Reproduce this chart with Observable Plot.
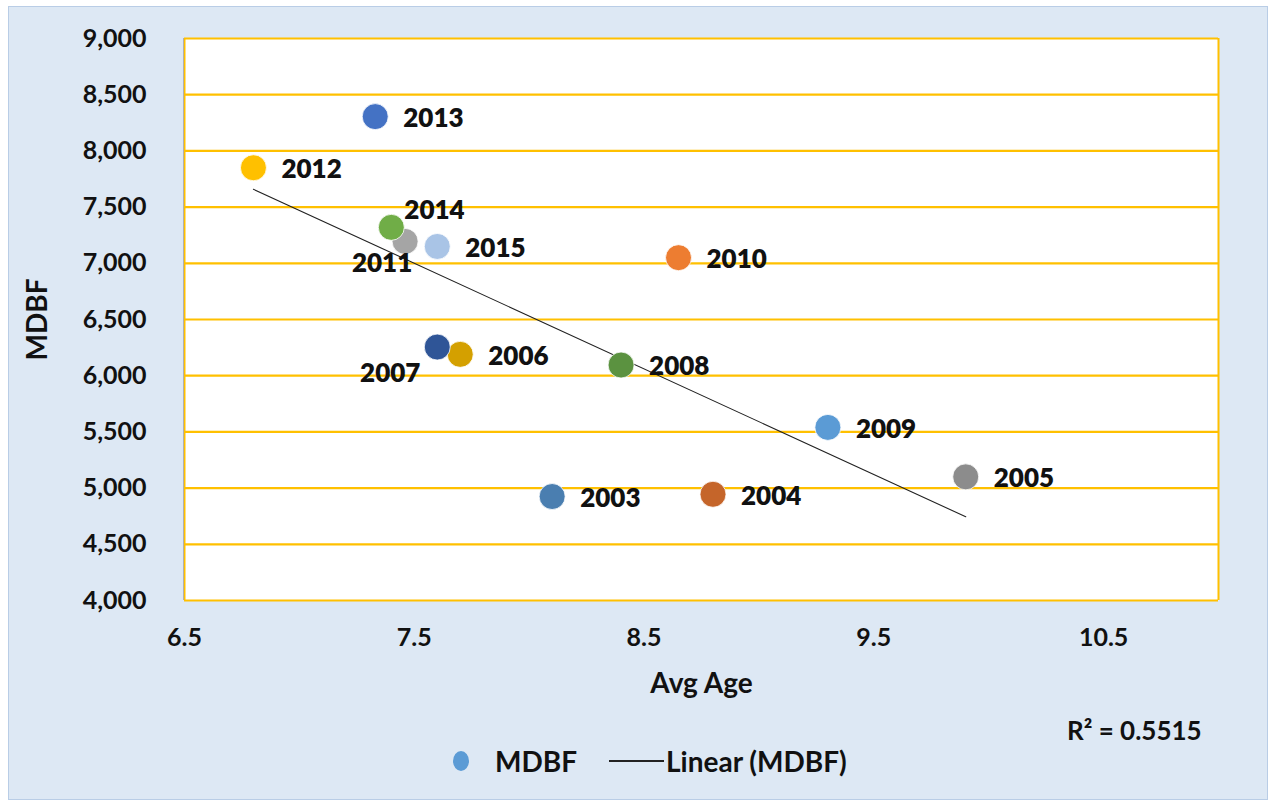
<!DOCTYPE html>
<html>
<head>
<meta charset="utf-8">
<script src="https://cdn.jsdelivr.net/npm/d3@7"></script>
<script src="https://cdn.jsdelivr.net/npm/@observablehq/plot@0.6"></script>
<style>
  html, body { margin: 0; padding: 0; background: #ffffff; }
  #wrap { position: relative; width: 1271px; height: 804px; overflow: hidden; font-family: Lato, "Open Sans", sans-serif; }
  #frame { position: absolute; left: 8px; top: 6px; width: 1258px; height: 792px; background: #dde8f4; border: 1.5px solid #b9cde6; }
  #chart { position: absolute; left: 0; top: 0; }
  #r2 { position: absolute; left: 1067px; top: 714px; font-size: 26px; font-weight: 700; color: #111; }
  #legend { position: absolute; left: 453px; top: 744px; display: flex; align-items: center; font-size: 28px; font-weight: 700; color: #111; }
  #legend .dot { width: 16px; height: 20px; border-radius: 50%; background: #5b9bd5; margin-right: 26px; }
  #legend .line { width: 55px; height: 1.5px; background: #222; margin-left: 32px; margin-right: 2px; }
</style>
</head>
<body>
<div id="wrap">
  <div id="frame"></div>
  <div id="chart"></div>
  <div id="r2">R² = 0.5515</div>
  <div id="legend"><span class="dot"></span><span>MDBF</span><span class="line"></span><span>Linear (MDBF)</span></div>
</div>
<script>
const years  = [2003, 2004, 2005, 2006, 2007, 2008, 2009, 2010, 2011, 2012, 2013, 2014, 2015];
const avgAge = [8.10, 8.80, 9.90, 7.70, 7.60, 8.40, 9.30, 8.65, 7.46, 6.80, 7.33, 7.40, 7.60];
const mdbf   = [4925, 4945, 5100, 6190, 6255, 6095, 5540, 7050, 7195, 7850, 8305, 7320, 7150];
const colors = ["#4a7eb0", "#c5652a", "#8c8c8c", "#d4a000", "#2f5597", "#5b9240", "#5b9bd5",
                "#ed7d31", "#a5a5a5", "#ffc000", "#4472c4", "#70ad47", "#a9c4e6"];
const xTicks = [6.5, 7.5, 8.5, 9.5, 10.5];
const yTicks = [4000, 4500, 5000, 5500, 6000, 6500, 7000, 7500, 8000, 8500, 9000];

const data = years.map((y, i) => ({year: y, label: String(y), age: avgAge[i], mdbf: mdbf[i], color: colors[i]}));
const below = new Set([2011, 2007]);
const above = new Set([2014]);
const rightLabels = data.filter(d => !below.has(d.year) && !above.has(d.year));

const fmt = d3.format(",");
const lbl = { x: "age", y: "mdbf", text: "label", fontSize: 26, fontWeight: 800, fill: "#111" };
const plot = Plot.plot({
  width: 1271,
  height: 700,
  marginLeft: 184,
  marginRight: 53,
  marginTop: 38,
  marginBottom: 100,
  style: { background: "transparent", fontFamily: "Lato, 'Open Sans', sans-serif", color: "#111" },
  x: { domain: [6.5, 11], ticks: xTicks, tickFormat: d => d.toFixed(1) },
  y: { domain: [4000, 9000], ticks: yTicks, tickFormat: fmt },
  marks: [
    Plot.frame({ fill: "white", stroke: "none" }),
    Plot.ruleY(yTicks, { stroke: "#ffc000", strokeWidth: 2.2 }),
    Plot.ruleX([6.5, 11], { stroke: "#ffc000", strokeWidth: 2 }),
    Plot.ruleX([6.5], { stroke: "#b0b0b0", strokeWidth: 1, dx: -1 }),
    Plot.axisY({ ticks: yTicks, tickFormat: fmt, tickSize: 0, tickPadding: 38, fontSize: 25, fontWeight: 700, label: null }),
    Plot.axisX({ ticks: xTicks, tickFormat: d => d.toFixed(1), tickSize: 0, tickPadding: 28, fontSize: 25, fontWeight: 700, label: null }),
    Plot.text(["MDBF"], { frameAnchor: "left", textAnchor: "middle", dx: -146, rotate: -90, fontSize: 28, fontWeight: 700 }),
    Plot.text(["Avg Age"], { frameAnchor: "bottom", dy: 92, fontSize: 28, fontWeight: 700 }),
    Plot.linearRegressionY(data, { x: "age", y: "mdbf", stroke: "#222", strokeWidth: 1.1, ci: 0 }),
    Plot.dot(data, { x: "age", y: "mdbf", r: 13, fill: "color", stroke: "white", strokeWidth: 0.8 }),
    Plot.text(rightLabels, { ...lbl, textAnchor: "start", dx: 28, dy: 2 }),
    Plot.text(data.filter(d => above.has(d.year)), { ...lbl, textAnchor: "start", dx: 13, dy: -17 }),
    Plot.text(data.filter(d => d.year === 2011), { ...lbl, textAnchor: "middle", dx: -23, dy: 22 }),
    Plot.text(data.filter(d => d.year === 2007), { ...lbl, textAnchor: "middle", dx: -47, dy: 27 })
  ]
});
document.getElementById("chart").appendChild(plot);
</script>
</body>
</html>
